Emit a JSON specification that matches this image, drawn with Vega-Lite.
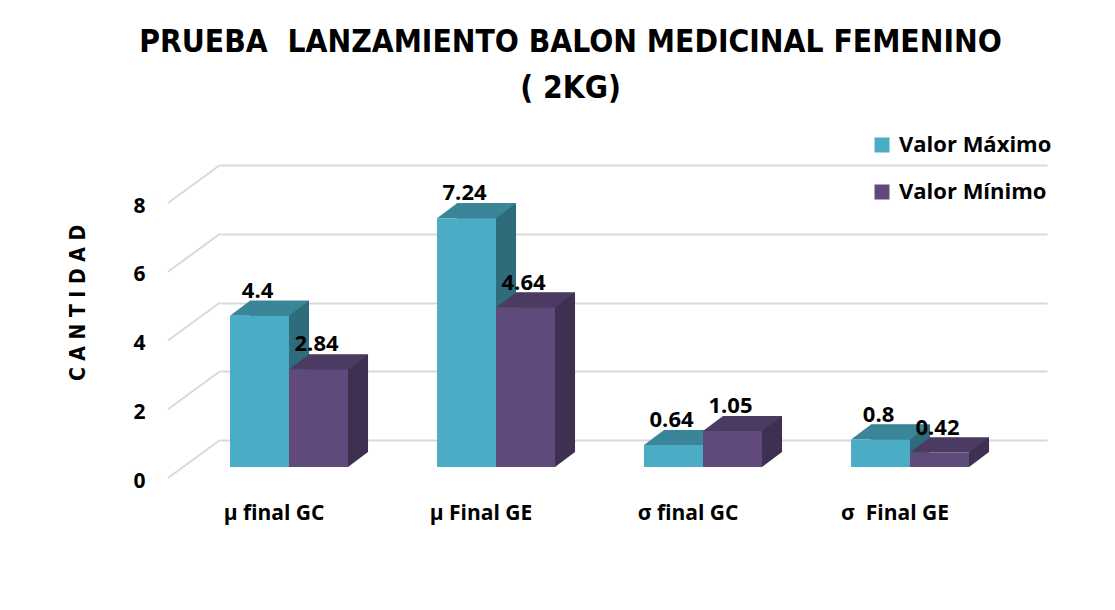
{
  "$schema": "https://vega.github.io/schema/vega-lite/v6.json",
  "autosize": {"type": "none"},
  "padding": {"left": 220, "top": 165, "right": 68, "bottom": 170},
  "width": 827,
  "height": 275,
  "background": "white",
  "config": {"view": {"stroke": null}},
  "title": {
    "text": ["PRUEBA\u00a0 LANZAMIENTO BALON MEDICINAL FEMENINO", "( 2KG)"],
    "font": "DejaVu Sans Condensed, Roboto",
    "fontWeight": "bold",
    "fontSize": 31.5,
    "lineHeight": 46,
    "color": "black",
    "anchor": "middle",
    "dx": -63,
    "offset": 30
  },
  "datasets": {
    "bars": [
      {"cat": "μ final GC", "serie": "Valor Máximo", "v": 4.4},
      {"cat": "μ final GC", "serie": "Valor Mínimo", "v": 2.84},
      {"cat": "μ Final GE", "serie": "Valor Máximo", "v": 7.24},
      {"cat": "μ Final GE", "serie": "Valor Mínimo", "v": 4.64},
      {"cat": "σ final GC", "serie": "Valor Máximo", "v": 0.64},
      {"cat": "σ final GC", "serie": "Valor Mínimo", "v": 1.05},
      {"cat": "σ\u00a0 Final GE", "serie": "Valor Máximo", "v": 0.8},
      {"cat": "σ\u00a0 Final GE", "serie": "Valor Mínimo", "v": 0.42}
    ],
    "grid": [{"g": 0}, {"g": 2}, {"g": 4}, {"g": 6}, {"g": 8}]
  },
  "resolve": {"scale": {"color": "independent", "xOffset": "independent"}},
  "layer": [
    {
      "data": {"name": "grid"},
      "mark": {"type": "rule", "color": "#D9D9D9", "strokeWidth": 2, "xOffset": -52, "yOffset": 38},
      "encoding": {
        "x": {"value": 0},
        "x2": {"value": 0},
        "y": {"field": "g", "type": "quantitative", "scale": {"domain": [0, 8], "nice": false},
          "axis": {
            "values": [0, 2, 4, 6, 8],
            "grid": true, "gridColor": "#D9D9D9", "gridWidth": 2,
            "domain": false, "ticks": false,
            "labelOffset": 41, "labelPadding": 75,
            "labelFont": "Open Sans", "labelFontWeight": "bold", "labelFontSize": 21, "labelColor": "black",
            "title": "C A N T I D A D",
            "titleFont": "DejaVu Sans Condensed, Roboto", "titleFontWeight": "bold", "titleFontSize": 21, "titleColor": "black",
            "titlePadding": 44
          }
        },
        "y2": {"field": "g"}
      }
    },
    {
      "data": {"name": "bars"},
      "mark": {"type": "bar", "yOffset": 12, "y2Offset": 12},
      "encoding": {
        "x": {"field": "cat", "type": "nominal", "sort": null,
          "scale": {"paddingInner": 0.43, "paddingOuter": 0.2126, "align": 0.114},
          "axis": {"title": null, "domain": false, "ticks": false, "labelAngle": 0, "labelOffset": -15, "labelPadding": 62,
            "labelFont": "Open Sans", "labelFontWeight": "bold", "labelFontSize": 21, "labelColor": "black"}},
        "xOffset": {"field": "serie", "type": "nominal", "sort": null, "scale": {"range": [20, 138]}},
        "y": {"field": "v", "type": "quantitative"},
        "color": {"field": "serie", "type": "nominal", "sort": null, "scale": {"range": ["#2E6B7B", "#3E3051"]}, "legend": null}
      }
    },
    {
      "data": {"name": "bars"},
      "mark": {"type": "point", "filled": true, "opacity": 1, "strokeWidth": 0, "size": 400, "yOffset": 27,
        "shape": "M 2.95 -1.5 L 2.95 0 L 4.95 -1.5 Z"},
      "encoding": {
        "x": {"field": "cat", "type": "nominal", "sort": null},
        "xOffset": {"field": "serie", "type": "nominal", "sort": null},
        "y": {"datum": 0},
        "color": {"field": "serie", "type": "nominal", "sort": null, "scale": {"range": ["#2E6B7B", "#3E3051"]}, "legend": null}
      }
    },
    {
      "data": {"name": "bars"},
      "mark": {"type": "point", "filled": true, "opacity": 1, "strokeWidth": 0, "size": 400, "yOffset": 27,
        "shape": "M -2.95 0 L 2.95 0 L 4.95 -1.5 L -0.95 -1.5 Z"},
      "encoding": {
        "x": {"field": "cat", "type": "nominal", "sort": null},
        "xOffset": {"field": "serie", "type": "nominal", "sort": null},
        "y": {"field": "v", "type": "quantitative"},
        "color": {"field": "serie", "type": "nominal", "sort": null, "scale": {"range": ["#3A8598", "#4B3A61"]}, "legend": null}
      }
    },
    {
      "data": {"name": "bars"},
      "mark": {"type": "bar", "yOffset": 27, "y2Offset": 27},
      "encoding": {
        "x": {"field": "cat", "type": "nominal", "sort": null},
        "xOffset": {"field": "serie", "type": "nominal", "sort": null},
        "y": {"field": "v", "type": "quantitative"},
        "color": {"field": "serie", "type": "nominal", "sort": null,
          "scale": {"range": ["#4BACC6", "#604A7B"]},
          "legend": {"orient": "none", "legendX": 651, "legendY": -31, "title": null,
            "symbolType": "square", "symbolSize": 225, "symbolStrokeWidth": 0, "symbolOpacity": 1,
            "labelFont": "Open Sans", "labelFontWeight": "bold", "labelFontSize": 22, "labelColor": "black",
            "rowPadding": 25, "labelOffset": 6}}
      }
    },
    {
      "data": {"name": "bars"},
      "mark": {"type": "text", "yOffset": 9, "dx": -2, "baseline": "alphabetic", "font": "Open Sans", "fontWeight": "bold", "fontSize": 22, "color": "black"},
      "encoding": {
        "x": {"field": "cat", "type": "nominal", "sort": null},
        "xOffset": {"field": "serie", "type": "nominal", "sort": null},
        "y": {"field": "v", "type": "quantitative"},
        "text": {"field": "v", "type": "quantitative"}
      }
    }
  ]
}
